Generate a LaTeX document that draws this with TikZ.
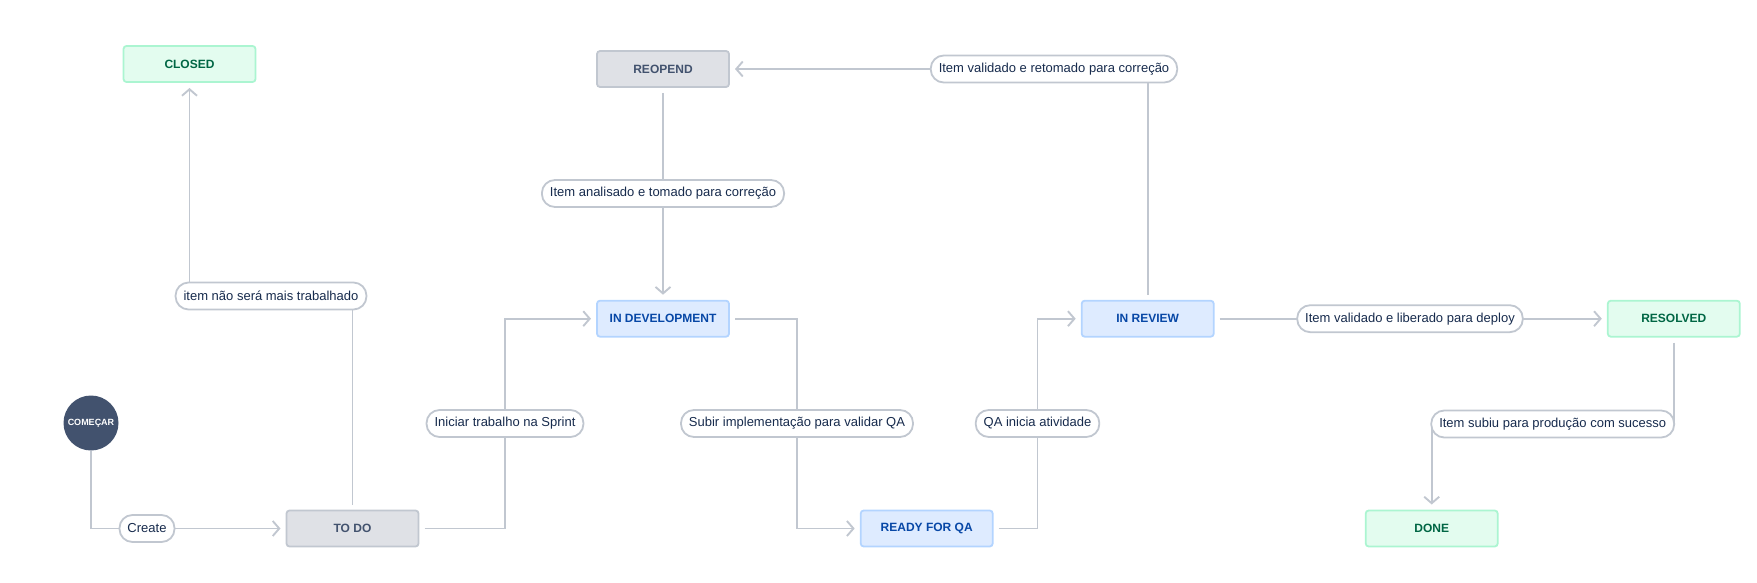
\documentclass[tikz,border=0pt]{standalone}
\usepackage{fontspec}
\setmainfont{Liberation Sans}
\usetikzlibrary{arrows.meta, backgrounds}

\definecolor{flowgray}{HTML}{C1C7D0}
\definecolor{lbltext}{HTML}{172B4D}
\definecolor{grayfill}{HTML}{DFE1E6}
\definecolor{grayline}{HTML}{C1C7D0}
\definecolor{graytext}{HTML}{42526E}
\definecolor{bluefill}{HTML}{DEEBFF}
\definecolor{blueline}{HTML}{B3D4FF}
\definecolor{bluetext}{HTML}{0747A6}
\definecolor{greenfill}{HTML}{E3FCEF}
\definecolor{greenline}{HTML}{ABF5D1}
\definecolor{greentext}{HTML}{006644}
\definecolor{startfill}{HTML}{42526E}

\begin{document}
\begin{tikzpicture}[
  x=1pt, y=-1pt,
  stbox/.style={rounded corners=3pt, minimum width=132pt, minimum height=36pt,
                line width=1.8pt, outer sep=6pt, align=center,
                font=\fontsize{12}{14}\selectfont\bfseries},
  graybox/.style={stbox, fill=grayfill, draw=grayline, text=graytext},
  bluebox/.style={stbox, fill=bluefill, draw=blueline, text=bluetext},
  greenbox/.style={stbox, fill=greenfill, draw=greenline, text=greentext},
  lbl/.style={rounded corners=13pt, minimum height=27pt, inner xsep=8pt,
              fill=white, draw=flowgray, line width=1.8pt, text=lbltext,
              font=\fontsize{13}{15}\selectfont},
  flow/.style={draw=flowgray, line width=1.9pt,
               -{Straight Barb[length=6.5pt, width=15pt]}},
]
  \useasboundingbox (0,0) rectangle (1757,583);

  % Start
  \node[circle, fill=startfill, minimum size=55pt, inner sep=0pt, text=white,
        font=\fontsize{9}{10}\selectfont\bfseries] (start) at (91,423) {COMEÇAR};

  % ── States ──
  \node[greenbox] (closed) at (189.5,64) {CLOSED};
  \node[graybox] (reopen) at (663,69) {REOPEND};
  \node[graybox] (todo) at (352.5,528.5) {TO DO};
  \node[bluebox] (indev) at (663,318.7) {IN DEVELOPMENT};
  \node[bluebox] (ready) at (926.7,528.5) {READY FOR QA};
  \node[bluebox] (review) at (1147.7,318.7) {IN REVIEW};
  \node[greenbox] (resolved) at (1673.8,318.7) {RESOLVED};
  \node[greenbox] (done) at (1431.7,528.5) {DONE};

  % ── Transition labels ──
  \node[lbl] (lcreate) at (147,528.5) {Create};
  \node[lbl] (lclose) at (271,296) {item não será mais trabalhado};
  \node[lbl] (lsprint) at (505,423.5) {Iniciar trabalho na Sprint};
  \node[lbl] (lanalis) at (663,193.5) {Item analisado e tomado para correção};
  \node[lbl] (lretom) at (1054,69) {Item validado e retomado para correção};
  \node[lbl] (lsubir) at (797,423.5) {Subir implementação para validar QA};
  \node[lbl] (lqa) at (1037.5,423.5) {QA inicia atividade};
  \node[lbl] (lliber) at (1410,318.7) {Item validado e liberado para deploy};
  \node[lbl] (lsubiu) at (1552.7,424) {Item subiu para produção com sucesso};

  % ── Connectors (behind the labels) ──
  \begin{scope}[on background layer]
    \draw[flow] (start.south) |- (todo.west);
    \draw[flow] (todo.north) |- (lclose.center) -| (closed.south);
    \draw[flow] (todo.east) -| (lsprint.center) |- (indev.west);
    \draw[flow] (reopen.south) -- (indev.north);
    \draw[flow] (indev.east) -| (lsubir.center) |- (ready.west);
    \draw[flow] (ready.east) -| (lqa.center) |- (review.west);
    \draw[flow] (review.north) |- (reopen.east);
    \draw[flow] (review.east) -- (resolved.west);
    \draw[flow] (resolved.south) |- (lsubiu.center) -| (done.north);
  \end{scope}
\end{tikzpicture}
\end{document}
